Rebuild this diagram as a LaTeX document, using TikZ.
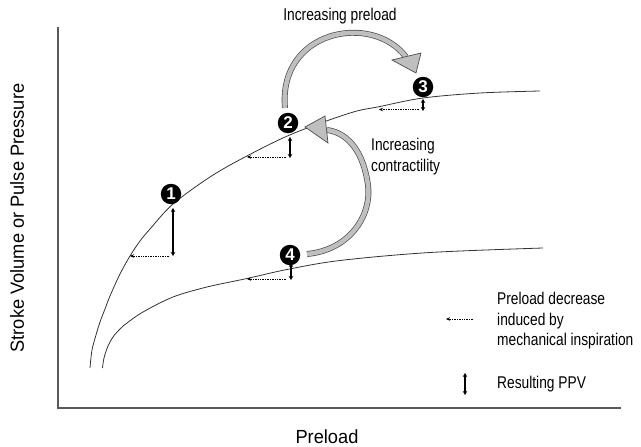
\documentclass[tikz,border=0pt]{standalone}
\usepackage{fontspec}
\setmainfont{Liberation Sans}
\newfontfamily\narrowfont[FakeStretch=0.81]{Liberation Sans}
\newfontfamily\axisfont[FakeStretch=0.96]{Liberation Sans}
\usetikzlibrary{arrows.meta}
\begin{document}
\begin{tikzpicture}[x=1pt,y=-1pt,
  axisline/.style={draw=black!65, line width=1.2pt},
  curve/.style={draw=black!80, line width=0.8pt},
  num/.style={circle, fill=black, text=white, inner sep=0pt, minimum size=20.5pt, font=\fontsize{17}{17}\selectfont\bfseries},
  ppv/.style={line width=1.2pt, {Stealth[length=4pt,width=4.5pt]}-{Stealth[length=4pt,width=4.5pt]}},
  inspir/.style={densely dotted, line width=0.7pt, -{Stealth[length=4pt,width=3.5pt]}},
  band/.style={draw=black!70, line width=0.7pt, double=black!25, double distance=4.5pt},
  headtri/.style={draw=black!70, line width=0.7pt, fill=black!25, line join=miter},
  lbl/.style={font=\narrowfont\fontsize{17}{20.5}\selectfont, align=left, inner sep=0pt},
  axlbl/.style={font=\axisfont\fontsize{19}{19}\selectfont, inner sep=0pt}
]
\useasboundingbox (0,0) rectangle (641,447);
% axes
\draw[axisline] (58,27) -- (58,408) -- (621,408);
\node[axlbl, rotate=90] (ylab) at (17,218) {Stroke Volume or Pulse Pressure};
\node[axlbl] (xlab) at (327,437) {Preload};
% curves
\draw[curve] plot[smooth, tension=0.55] coordinates {(90,368) (92,350) (96,335) (100,322) (105,309) (110,296) (120,274) (130,256) (140,241) (150,229) (173,204) (210,177) (245,157) (292,134) (350,113) (380,106.5) (423,98) (480,93) (540,91)};
\draw[curve] plot[smooth, tension=0.55] coordinates {(102.5,368) (104,358) (108,346) (113,337) (120,329) (127,323) (143,312) (173,297) (207,287) (247,278.5) (287,269.5) (340,260.5) (430,252.5) (543,248)};
% big arrows
\draw[band] (285,108) .. controls (278,30) and (372,12) .. (406,57);
\draw[headtri] (392,60) -- (421,53) -- (416,73) -- cycle;
\draw[band] (307,254) .. controls (350,250) and (372,215) .. (368,185) .. controls (364,155) and (350,133) .. (327,130);
\draw[headtri] (305,127) -- (325,116) -- (328,143) -- cycle;
% PPV and inspiration arrows
\coordinate (p1a) at (173,208); \coordinate (p1b) at (173,256);
\coordinate (d1a) at (169,256); \coordinate (d1b) at (130,256);
\draw[ppv] (p1a) -- (p1b);
\draw[inspir] (d1a) -- (d1b);
\coordinate (p2a) at (290,137); \coordinate (p2b) at (290,158);
\coordinate (d2a) at (286,157); \coordinate (d2b) at (247,157);
\draw[ppv] (p2a) -- (p2b);
\draw[inspir] (d2a) -- (d2b);
\coordinate (p3a) at (423,99); \coordinate (p3b) at (423,111);
\coordinate (d3a) at (419,109.5); \coordinate (d3b) at (379,109.5);
\draw[ppv] (p3a) -- (p3b);
\draw[inspir] (d3a) -- (d3b);
\coordinate (p4a) at (291,263); \coordinate (p4b) at (291,280);
\coordinate (d4a) at (286,279) ; \coordinate (d4b) at (247,279);
\draw[ppv] (p4a) -- (p4b);
\draw[inspir] (d4a) -- (d4b);
% numbered markers
\node[num] (n1) at (171,194) {1};
\node[num] (n2) at (288,123) {2};
\node[num] (n3) at (423,87) {3};
\node[num] (n4) at (290,255) {4};
% labels
\node[lbl, anchor=center] (tpre) at (340,16) {Increasing preload};
\node[lbl, anchor=north west] (tcon) at (371,138) {Increasing\\contractility};
% legend
\coordinate (la) at (473,319); \coordinate (lb) at (446,319);
\draw[inspir] (la) -- (lb);
\node[lbl, anchor=north west] (tleg) at (497,292) {Preload decrease\\induced by\\mechanical inspiration};
\coordinate (lpa) at (465,373); \coordinate (lpb) at (465,395);
\draw[ppv] (lpa) -- (lpb);
\node[lbl, anchor=west] (tppv) at (497,384) {Resulting PPV};
\end{tikzpicture}
\end{document}
